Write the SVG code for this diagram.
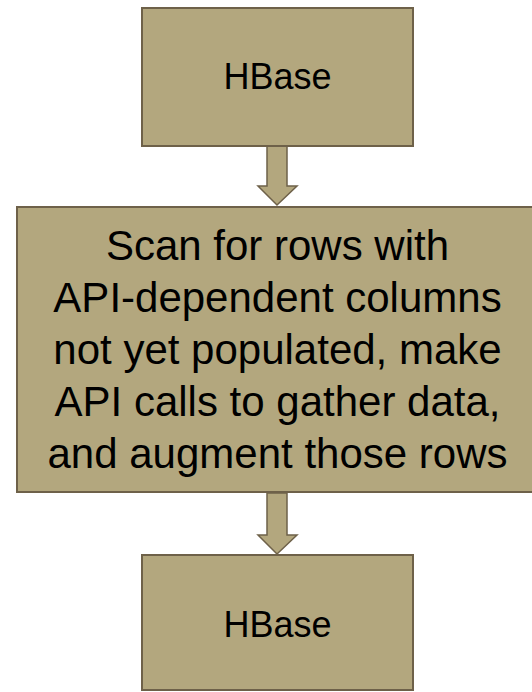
<svg xmlns="http://www.w3.org/2000/svg" width="532" height="692" viewBox="0 0 532 692">
  <style>
    .box { fill: #b3a77e; stroke: #6e6149; stroke-width: 2; }
    .arrow { fill: #b3a77e; stroke: #6e6149; stroke-width: 1.5; stroke-linejoin: miter; }
    .label { font-family: "Liberation Sans", Arial, sans-serif; fill: #000; text-anchor: middle; }
    .small { font-size: 36px; }
    .big { font-size: 42px; }
  </style>
  <rect width="532" height="692" fill="#ffffff"/>

  <g id="connectors">
    <polygon class="arrow" points="267,146 287,146 287,186 297,186 277,205 258,186 267,186"/>
    <polygon class="arrow" points="267,493 287,493 287,535 297,535 277,554 258,535 267,535"/>
  </g>

  <g id="hbase-source">
    <rect class="box" x="142" y="8" width="271" height="138"/>
    <text class="label small" x="277.5" y="89">HBase</text>
  </g>

  <g id="augment-step">
    <rect class="box" x="17" y="207" width="522" height="285"/>
    <text class="label big" x="277.5" y="259.5">Scan for rows with</text>
    <text class="label big" x="277.5" y="311.5">API-dependent columns</text>
    <text class="label big" x="277.5" y="363.5">not yet populated, make</text>
    <text class="label big" x="277.5" y="415.5">API calls to gather data,</text>
    <text class="label big" x="277.5" y="467.5">and augment those rows</text>
  </g>

  <g id="hbase-sink">
    <rect class="box" x="142" y="555" width="271" height="135"/>
    <text class="label small" x="277.5" y="637">HBase</text>
  </g>
</svg>
